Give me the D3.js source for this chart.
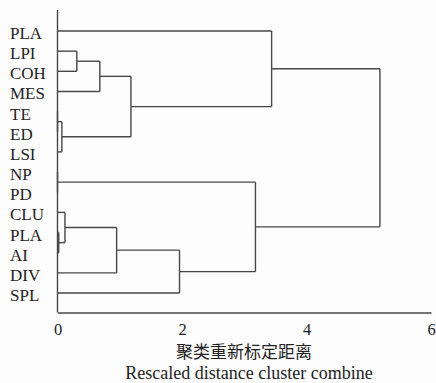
<!DOCTYPE html>
<html>
<head>
<meta charset="utf-8">
<script src="https://cdn.jsdelivr.net/npm/d3@7"></script>
<style>
  html, body { margin: 0; padding: 0; background: #fdfdfd; }
  svg { display: block; }
  .serif { font-family: "Liberation Serif", "Times New Roman", Times, "DejaVu Serif", serif; }
  .cjk { font-family: "Noto Sans CJK SC", sans-serif; }
</style>
</head>
<body>
<script>
// Leaf labels (top to bottom)
const labels = ["PLA","LPI","COH","MES","TE","ED","LSI","NP","PD","CLU","PLA","AI","DIV","SPL"];
// Merge steps: ids 0..13 are leaves, merge i creates node id 14+i
const mergeLeft   = [4, 14, 1, 16, 17, 0, 7, 10, 9, 22, 23, 20, 19];
const mergeRight  = [5, 6,  2, 3,  15, 18, 8, 11, 21, 12, 13, 24, 25];
const mergeHeight = [0.0, 0.07, 0.31, 0.68, 1.18, 3.44, 0.0, 0.02, 0.12, 0.95, 1.96, 3.18, 5.18];
const xTicks = [0, 2, 4, 6];
const xTitleCn = "聚类重新标定距离";
const xTitleEn = "Rescaled distance cluster combine";

const W = 436, H = 383;
const svg = d3.select("body").append("svg").attr("width", W).attr("height", H);
svg.append("rect").attr("width", W).attr("height", H).attr("fill", "#fdfdfd");

const x = d3.scaleLinear().domain([0, 6]).range([57.5, 431]);
const y = d3.scalePoint().domain(d3.range(labels.length)).range([31, 293]);
const axisY = 312.5;
const lineColor = "#474747";
const lw = 1.4;

// node positions
const nodeY = [], nodeH = [];
labels.forEach((l, i) => { nodeY[i] = y(i); nodeH[i] = 0; });
const g = svg.append("g").attr("fill", "none").attr("stroke", lineColor).attr("stroke-width", lw);
mergeHeight.forEach((h, i) => {
  const id = labels.length + i;
  const a = mergeLeft[i], b = mergeRight[i];
  nodeY[id] = (nodeY[a] + nodeY[b]) / 2;
  nodeH[id] = h;
  [a, b].forEach(c => {
    g.append("line")
      .attr("x1", x(nodeH[c])).attr("x2", x(h))
      .attr("y1", nodeY[c]).attr("y2", nodeY[c]);
  });
  g.append("line")
    .attr("x1", x(h)).attr("x2", x(h))
    .attr("y1", nodeY[a]).attr("y2", nodeY[b]);
});

// left frame line
svg.append("line")
  .attr("x1", x(0)).attr("x2", x(0)).attr("y1", 10).attr("y2", axisY)
  .attr("stroke", lineColor).attr("stroke-width", lw);

// bottom axis
const xAxis = d3.axisBottom(x).tickValues(xTicks).tickSize(0).tickSizeOuter(0).tickPadding(11)
  .tickFormat(d3.format("d"));
const ax = svg.append("g").attr("transform", `translate(0,${axisY})`).call(xAxis);
ax.attr("font-family", null).attr("font-size", null);
ax.select(".domain").attr("stroke", lineColor).attr("stroke-width", lw);
ax.selectAll("text")
  .attr("class", "serif")
  .style("font-size", "16.5px").attr("fill", "#222");

// leaf labels
svg.append("g").selectAll("text").data(labels).join("text")
  .attr("class", "serif")
  .attr("x", 10).attr("y", (d, i) => y(i) + 8)
  .style("font-size", "17px").attr("fill", "#222")
  .text(d => d);

// axis titles
svg.append("text")
  .attr("class", "cjk")
  .attr("x", 244).attr("y", 358).attr("text-anchor", "middle")
  .style("font-size", "17px").attr("fill", "#222")
  .text(xTitleCn);
svg.append("text")
  .attr("class", "serif")
  .attr("x", 249).attr("y", 379).attr("text-anchor", "middle")
  .style("font-size", "18px").attr("fill", "#222")
  .text(xTitleEn);
</script>
</body>
</html>
